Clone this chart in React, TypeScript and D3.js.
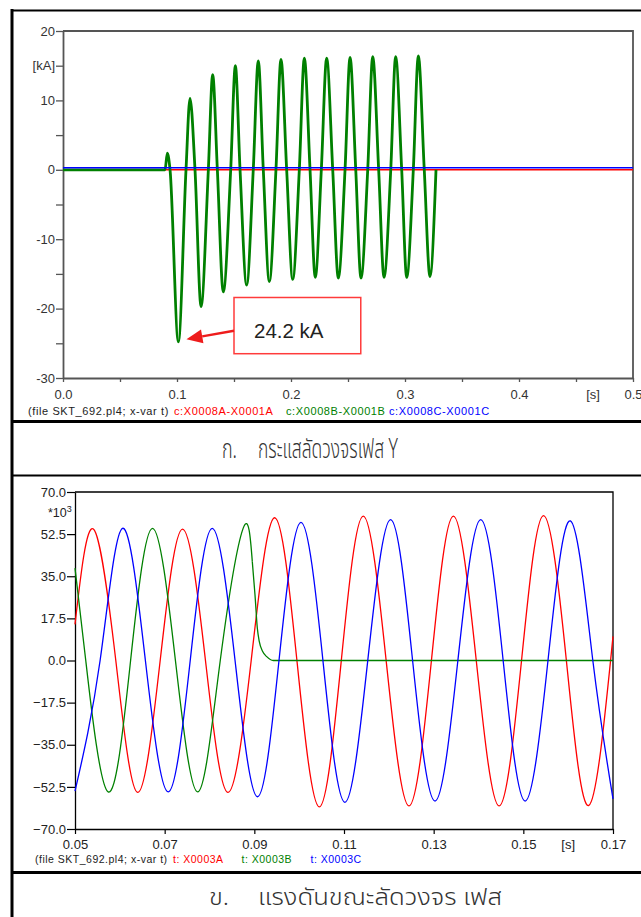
import React, { useRef, useEffect } from "react";
import * as d3 from "d3";

// ---- panel ก. : short-circuit current, phase Y ----
const currentYTicks = [20, 15, 10, 5, 0, -5, -10, -15, -20, -25, -30];
const currentYLabels = ["20", "[kA]", "10", "", "0", "", "-10", "", "-20", "", "-30"];
const currentXTicks = [0, 0.05, 0.1, 0.15, 0.2, 0.25, 0.3, 0.35, 0.4, 0.45, 0.5];
const currentXLabels = ["0.0", "", "0.1", "", "0.2", "", "0.3", "", "0.4", "", "0.5"];

// [t (s), i (kA)]
const currentA = [[0, 0], [0.5, 0]];
const currentC = [[0, 0.3], [0.5, 0.3]];
const currentB = [
  [0, 0], [0.0895, 0], [0.0915, 2.4], [0.0939, 0],
  [0.1012, -24.8], [0.1079, 0], [0.1114, 10.3], [0.1158, 0],
  [0.1211, -19.7], [0.1275, 0], [0.1313, 13.7], [0.1354, 0],
  [0.1406, -17.6], [0.1471, 0], [0.1512, 15.0], [0.1553, 0],
  [0.1611, -16.6], [0.1669, 0], [0.1713, 15.7], [0.1757, 0],
  [0.181, -16.1], [0.1868, 0], [0.1912, 15.9], [0.1962, 0],
  [0.2015, -15.8], [0.2073, 0], [0.2117, 16.1], [0.2167, 0],
  [0.2213, -15.5], [0.2266, 0], [0.2313, 16.1], [0.2366, 0],
  [0.2415, -15.6], [0.2474, 0], [0.2518, 16.2], [0.2568, 0],
  [0.2614, -15.6], [0.2673, 0], [0.2717, 16.3], [0.2769, 0],
  [0.2816, -15.5], [0.2875, 0], [0.2918, 16.3], [0.2971, 0],
  [0.3015, -15.5], [0.3073, 0], [0.3117, 16.4], [0.3169, 0],
  [0.3219, -15.4], [0.3272, 0],
];
const currentLegend = ["c:X0008A-X0001A", "c:X0008B-X0001B", "c:X0008C-X0001C"];
const peakLabel = "24.2 kA";
// note box corners and arrow ends, in data units
const noteBox = [[0.150, -18.4], [0.2612, -26.5]];
const noteArrow = [[0.150, -23.2], [0.1083, -24.4]];

// ---- panel ข. : voltage during fault ----
const voltYTicks = [70, 52.5, 35, 17.5, 0, -17.5, -35, -52.5, -70];
const voltXTicks = [0.05, 0.07, 0.09, 0.11, 0.13, 0.15, 0.17];

// [t (s), v (*10^3)]
const voltA = [
  [0.05, 15.0], [0.0541, 54.6], [0.0591, 0], [0.064, -54.8], [0.069, 0],
  [0.074, 54.6], [0.0791, 0], [0.0841, -54.8], [0.0893, 0], [0.0945, 59.3],
  [0.0995, 0], [0.1045, -60.8], [0.1094, 0], [0.1143, 60.0], [0.1194, 0],
  [0.1245, -60.4], [0.1295, 0], [0.1344, 60.0], [0.1395, 0], [0.1446, -60.4],
  [0.1496, 0], [0.1545, 60.2], [0.1596, 0], [0.1646, -60.2], [0.17, 10.0],
];
const voltC = [
  [0.05, -54.3], [0.0556, 0], [0.0606, 54.9], [0.0657, 0],
  [0.0708, -54.6], [0.0757, 0], [0.0806, 54.9], [0.0857, 0], [0.0907, -56.6],
  [0.0955, 0], [0.1004, 57.4], [0.1053, 0], [0.1102, -58.9], [0.1153, 0],
  [0.1204, 58.5], [0.1253, 0], [0.1303, -58.4], [0.1354, 0], [0.1405, 58.5],
  [0.1455, 0], [0.1504, -58.4], [0.1555, 0], [0.1605, 58.0], [0.1655, 0],
  [0.17, -57.5],
];
const voltB = [
  [0.05, 38.4], [0.0524, 0], [0.0574, -54.6], [0.0624, 0], [0.0673, 54.9],
  [0.0724, 0], [0.0774, -54.6], [0.0824, 0], [0.0875, 54.9], [0.08955, 41.0],
];
// phase B collapses to zero after the fault
const voltBFault = [
  [0.08955, 41.0], [0.09015, 27.2], [0.09067, 13.4], [0.09111, 7.8],
  [0.09186, 3.7], [0.09276, 1.6], [0.09423, 0], [0.17, 0],
];
const voltLegend = ["t: X0003A", "t: X0003B", "t: X0003C"];

const fileLabel = "(file SKT_692.pl4; x-var t)";
const captionA = ["ก.", "กระแสลัดวงจรเฟส Y"];
const captionB = ["ข.", "แรงดันขณะลัดวงจร เฟส"];

const RED = "#ff0000";
const GREEN = "#008000";
const BLUE = "#0000ff";

const App = () => {
  const ref = useRef<SVGSVGElement>(null);

  useEffect(() => {
    const svg = d3.select(ref.current);
    svg.selectAll("*").remove();

    const axisFont = "'Liberation Sans', Arial, sans-serif";
    const thaiFont = "'Noto Sans Thai', 'Noto Sans Thai UI', Loma, Garuda, 'Tlwg Typo', sans-serif";

    // table borders
    const table = svg.append("g").attr("stroke", "#000").attr("fill", "none");
    table.append("line").attr("x1", 12).attr("x2", 12).attr("y1", 9).attr("y2", 917).attr("stroke-width", 3);
    table.append("line").attr("x1", 11).attr("x2", 641).attr("y1", 10.5).attr("y2", 10.5).attr("stroke-width", 2);
    table.append("line").attr("x1", 11).attr("x2", 641).attr("y1", 421.5).attr("y2", 421.5).attr("stroke-width", 3);
    table.append("line").attr("x1", 11).attr("x2", 641).attr("y1", 475.5).attr("y2", 475.5).attr("stroke-width", 2);
    table.append("line").attr("x1", 11).attr("x2", 641).attr("y1", 872.5).attr("y2", 872.5).attr("stroke-width", 3);

    // ===== panel 1 =====
    const x1 = d3.scaleLinear().domain([0, 0.5]).range([63, 633]);
    const y1 = d3.scaleLinear().domain([-30, 20]).range([378, 31]);
    const axisGrey = "#555";

    svg.append("path")
      .attr("d", `M${x1(0)},${y1(20)}H${x1(0.5)}V${y1(-30)}`)
      .attr("fill", "none")
      .attr("stroke", axisGrey)
      .attr("stroke-width", 1.8);

    const gy1 = svg.append("g")
      .attr("transform", `translate(${x1(0)},0)`)
      .call(d3.axisLeft(y1).tickValues(currentYTicks)
        .tickFormat((d, i) => currentYLabels[i]).tickSize(7).tickPadding(1).tickSizeOuter(0));
    const gx1 = svg.append("g")
      .attr("transform", `translate(0,${y1(-30)})`)
      .call(d3.axisBottom(x1).tickValues(currentXTicks)
        .tickFormat((d, i) => currentXLabels[i]).tickSize(4).tickPadding(8).tickSizeOuter(0));
    [gy1, gx1].forEach(g => {
      g.select(".domain").attr("stroke", axisGrey).attr("stroke-width", 1.8);
      g.selectAll(".tick line").attr("stroke", axisGrey).attr("stroke-width", 1.3);
      g.selectAll("text").attr("font-size", 13).attr("font-family", axisFont).attr("fill", "#333");
    });
    svg.append("text")
      .attr("x", x1(0.465)).attr("y", y1(-30) + 12).attr("dy", "0.71em")
      .attr("text-anchor", "middle")
      .attr("font-size", 13).attr("font-family", axisFont).attr("fill", "#333")
      .text("[s]");

    const lineI = d3.line<number[]>()
      .x(d => x1(d[0]))
      .y(d => y1(d[1]))
      .curve(d3.curveMonotoneX);

    svg.append("path").datum(currentA).attr("d", lineI)
      .attr("fill", "none").attr("stroke", RED).attr("stroke-width", 1.4);
    svg.append("path").datum(currentB).attr("d", lineI)
      .attr("fill", "none").attr("stroke", GREEN).attr("stroke-width", 2.8)
      .attr("stroke-linejoin", "round");
    svg.append("path").datum(currentC).attr("d", lineI)
      .attr("fill", "none").attr("stroke", BLUE).attr("stroke-width", 1.4);

    // annotation of the first peak
    const bx0 = x1(noteBox[0][0]), by0 = y1(noteBox[0][1]);
    const bx1 = x1(noteBox[1][0]), by1 = y1(noteBox[1][1]);
    svg.append("rect")
      .attr("x", bx0).attr("y", by0).attr("width", bx1 - bx0).attr("height", by1 - by0)
      .attr("fill", "#fff").attr("stroke", "#ff3b3b").attr("stroke-width", 1.5);
    svg.append("text")
      .attr("x", bx0 + 20).attr("y", y1(-24.2))
      .attr("font-size", 20.5).attr("font-family", axisFont).attr("fill", "#222")
      .text(peakLabel);
    const ax0 = x1(noteArrow[0][0]), ay0 = y1(noteArrow[0][1]);
    const ax1 = x1(noteArrow[1][0]), ay1 = y1(noteArrow[1][1]);
    const ang = Math.atan2(ay1 - ay0, ax1 - ax0);
    const hl = 16, hw = 7;
    const bxh = ax1 - hl * Math.cos(ang), byh = ay1 - hl * Math.sin(ang);
    svg.append("line")
      .attr("x1", ax0).attr("y1", ay0).attr("x2", bxh).attr("y2", byh)
      .attr("stroke", "#ee1c1c").attr("stroke-width", 2.5);
    svg.append("path")
      .attr("d", `M${ax1},${ay1}L${bxh + hw * Math.sin(ang)},${byh - hw * Math.cos(ang)}L${bxh - hw * Math.sin(ang)},${byh + hw * Math.cos(ang)}Z`)
      .attr("fill", "#ee1c1c");

    // legend 1
    const leg1 = [[fileLabel, "#222", 28], [currentLegend[0], RED, 174], [currentLegend[1], GREEN, 286], [currentLegend[2], BLUE, 389]];
    leg1.forEach(([txt, col, lx]) => {
      svg.append("text")
        .attr("x", lx as number).attr("y", 415)
        .attr("font-size", 11).attr("letter-spacing", 0.6)
        .attr("font-family", axisFont).attr("fill", col as string)
        .text(txt as string);
    });

    // captions (condensed thai face in the original)
    const cap = (txt: string, x: number, y: number, size: number, len: number) => {
      svg.append("text").attr("x", x).attr("y", y)
        .attr("font-size", size).attr("font-weight", 300)
        .attr("font-family", thaiFont).attr("fill", "#333")
        .attr("textLength", len).attr("lengthAdjust", "spacingAndGlyphs")
        .text(txt);
    };
    cap(captionA[0], 222, 458, 27, 15);
    cap(captionA[1], 258, 458, 27, 140);

    // ===== panel 2 =====
    const x2 = d3.scaleLinear().domain([0.05, 0.17]).range([75, 613]);
    const y2 = d3.scaleLinear().domain([-70, 70]).range([829, 492]);

    svg.append("path")
      .attr("d", `M${x2(0.05)},${y2(70)}H${x2(0.17)}V${y2(-70)}`)
      .attr("fill", "none").attr("stroke", "#000").attr("stroke-width", 1.3);

    const gy2 = svg.append("g")
      .attr("transform", `translate(${x2(0.05)},0)`)
      .call(d3.axisLeft(y2).tickValues(voltYTicks)
        .tickFormat(d3.format(".1f")).tickSize(8).tickPadding(1).tickSizeOuter(0));
    const gx2 = svg.append("g")
      .attr("transform", `translate(0,${y2(-70)})`)
      .call(d3.axisBottom(x2).tickValues(voltXTicks)
        .tickFormat(d3.format(".2f")).tickSize(5).tickPadding(6).tickSizeOuter(0));
    [gy2, gx2].forEach(g => {
      g.select(".domain").attr("stroke", "#000").attr("stroke-width", 1.3);
      g.selectAll(".tick line").attr("stroke", "#000").attr("stroke-width", 1.2);
      g.selectAll("text").attr("font-size", 13).attr("font-family", axisFont).attr("fill", "#222");
    });
    svg.append("text")
      .attr("x", x2(0.16)).attr("y", y2(-70) + 11).attr("dy", "0.71em")
      .attr("text-anchor", "middle")
      .attr("font-size", 13).attr("font-family", axisFont).attr("fill", "#222")
      .text("[s]");
    const mult = svg.append("text")
      .attr("x", 48).attr("y", 517)
      .attr("font-size", 12.5).attr("font-family", axisFont).attr("fill", "#222");
    mult.append("tspan").text("*10");
    mult.append("tspan").attr("dy", -5).attr("font-size", 9).text("3");

    const lineV = d3.line<number[]>()
      .x(d => x2(d[0]))
      .y(d => y2(d[1]))
      .curve(d3.curveNatural);
    const lineVm = d3.line<number[]>()
      .x(d => x2(d[0]))
      .y(d => y2(d[1]))
      .curve(d3.curveMonotoneX);

    svg.append("path").datum(voltA).attr("d", lineV)
      .attr("fill", "none").attr("stroke", RED).attr("stroke-width", 1.3);
    svg.append("path").datum(voltB).attr("d", lineV)
      .attr("fill", "none").attr("stroke", GREEN).attr("stroke-width", 1.3);
    svg.append("path").datum(voltBFault).attr("d", lineVm)
      .attr("fill", "none").attr("stroke", GREEN).attr("stroke-width", 1.3);
    svg.append("path").datum(voltC).attr("d", lineV)
      .attr("fill", "none").attr("stroke", BLUE).attr("stroke-width", 1.3);

    // legend 2
    const leg2 = [[fileLabel, "#222", 35], [voltLegend[0], RED, 173], [voltLegend[1], GREEN, 241.5], [voltLegend[2], BLUE, 310.5]];
    leg2.forEach(([txt, col, lx]) => {
      svg.append("text")
        .attr("x", lx as number).attr("y", 863)
        .attr("font-size", 10.5).attr("letter-spacing", 0.5)
        .attr("font-family", axisFont).attr("fill", col as string)
        .text(txt as string);
    });

    // caption 2
    cap(captionB[0], 209, 905, 23, 20);
    cap(captionB[1], 258, 905, 23, 244);
  }, []);

  return (
    <svg
      ref={ref}
      width={641}
      height={917}
      style={{ position: "absolute", left: 0, top: 0, background: "#fff" }}
    />
  );
};

export default App;
